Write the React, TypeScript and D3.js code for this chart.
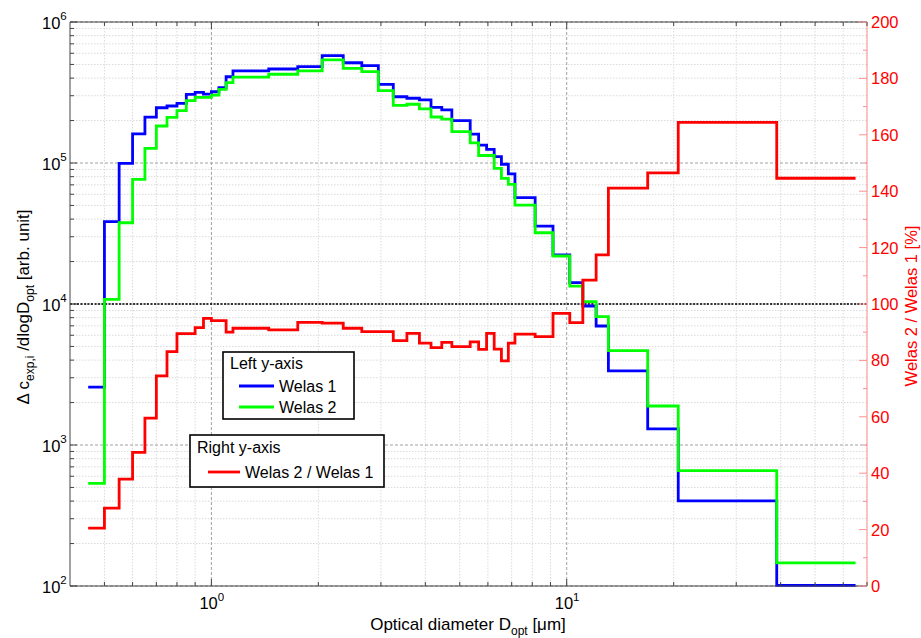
import React from "react";
import * as d3 from "d3";

const edges = [0.45, 0.5, 0.55, 0.6, 0.65, 0.7, 0.75, 0.8, 0.85, 0.9, 0.95, 1.0, 1.05, 1.1, 1.15, 1.45, 1.75, 2.05, 2.35, 2.65, 2.95, 3.25, 3.55, 3.85, 4.15, 4.45, 4.75, 5.35, 5.65, 5.95, 6.25, 6.55, 6.85, 7.15, 8.15, 9.15, 10.2, 11.1, 12.1, 13.1, 16.9, 20.6, 39, 65];

const welas1 = [2570, 38400, 99500, 160700, 211800, 246600, 253700, 265000, 307000, 317000, 308000, 320000, 342000, 409000, 450000, 464000, 482000, 577000, 514000, 490000, 361000, 295000, 288000, 280000, 248000, 238000, 200000, 160000, 134000, 125000, 111000, 98000, 83600, 56800, 35700, 22300, 14200, 9680, 6980, 3350, 1300, 401, 101];

const welas2 = [535, 10800, 37700, 76600, 127000, 183000, 210800, 235000, 276500, 292000, 292000, 303000, 333000, 371000, 407000, 426000, 450000, 538000, 469000, 444000, 326000, 256000, 261000, 242000, 212000, 205000, 167000, 139000, 113000, 113000, 91700, 77900, 70600, 50300, 32000, 21900, 13400, 10400, 8130, 4670, 1890, 658, 146];

const ratio = [20.5, 27.6, 37.9, 47.4, 59.5, 74.5, 83.1, 89.5, 89.5, 91.6, 94.9, 94.1, 94.1, 90, 91.4, 90.8, 93.5, 93.2, 91.4, 90.2, 90.2, 87, 89.6, 86.1, 84.5, 86.4, 84.9, 86.6, 83.9, 89.6, 84, 79.8, 86.1, 89.3, 88.4, 96.7, 93.4, 108.5, 117.4, 141.1, 146.5, 164.4, 144.6];

const xTicks = [0.5, 0.6, 0.7, 0.8, 0.9, 1, 2, 3, 4, 5, 6, 7, 8, 9, 10, 20, 30, 40, 50, 60, 70];
const xMajor = [1, 10];
const yDecades = [2, 3, 4, 5, 6];
const rightTicks = [0, 20, 40, 60, 80, 100, 120, 140, 160, 180, 200];
const rightMinor = [10, 30, 50, 70, 90, 110, 130, 150, 170, 190];

const L = 70, R = 867, T = 22, B = 586;
const FONT = "Liberation Sans, Arial, Helvetica, sans-serif";

export default function App() {
  const x = d3.scaleLog().domain([0.4, 70]).range([L, R]);
  const yL = d3.scaleLog().domain([100, 1e6]).range([B, T]);
  const yR = d3.scaleLinear().domain([0, 200]).range([B, T]);

  const stairs = (vals: number[], ys: (v: number) => number) => {
    const pts: [number, number][] = vals.map((v, i) => [edges[i], v]);
    pts.push([edges[vals.length], vals[vals.length - 1]]);
    return d3.line<[number, number]>()
      .x((d) => x(d[0]))
      .y((d) => ys(d[1]))
      .curve(d3.curveStepAfter)(pts) as string;
  };

  const minorY: number[] = [];
  [2, 3, 4, 5].forEach((e) => {
    for (let m = 2; m <= 9; m++) minorY.push(m * Math.pow(10, e));
  });

  return (
    <svg width={921} height={638} style={{ position: "absolute", left: 0, top: 0, background: "#fff" }} fontFamily={FONT}>
      <rect x={0} y={0} width={921} height={638} fill="#fff" />
      {/* grid */}
      {xTicks.filter((t) => !xMajor.includes(t)).map((t) => (
        <line key={"gx" + t} x1={x(t)} x2={x(t)} y1={T} y2={B} stroke="#dadada" strokeWidth={1} strokeDasharray="1.5,1.5" />
      ))}
      {minorY.map((v) => (
        <line key={"gy" + v} x1={L} x2={R} y1={yL(v)} y2={yL(v)} stroke="#dadada" strokeWidth={1} strokeDasharray="1.5,1.5" />
      ))}
      {xMajor.map((t) => (
        <line key={"gX" + t} x1={x(t)} x2={x(t)} y1={T} y2={B} stroke="#a0a0a0" strokeWidth={1} strokeDasharray="3,2" />
      ))}
      {yDecades.map((e) => (
        <line key={"gY" + e} x1={L} x2={R} y1={yL(Math.pow(10, e))} y2={yL(Math.pow(10, e))} stroke="#a0a0a0" strokeWidth={1} strokeDasharray="3,2" />
      ))}
      {/* 100% line */}
      <line x1={L} x2={R} y1={yR(100)} y2={yR(100)} stroke="#000" strokeWidth={1.6} strokeDasharray="2,1.5" />

      {/* curves */}
      <path d={stairs(welas1, yL)} fill="none" stroke="#0000ff" strokeWidth={2.8} />
      <path d={stairs(welas2, yL)} fill="none" stroke="#00ff00" strokeWidth={2.8} />
      <path d={stairs(ratio, yR)} fill="none" stroke="#ff0000" strokeWidth={2.8} />

      {/* axes frame */}
      <line x1={L} x2={R} y1={T} y2={T} stroke="#444" strokeWidth={1} />
      <line x1={L} x2={R} y1={B} y2={B} stroke="#444" strokeWidth={1} />
      <line x1={L} x2={L} y1={T} y2={B} stroke="#444" strokeWidth={1} />
      <line x1={R} x2={R} y1={T} y2={B} stroke="#ff9090" strokeWidth={1} />

      {/* x ticks */}
      {xTicks.map((t) => {
        const len = xMajor.includes(t) ? 7 : 4;
        return (
          <g key={"xt" + t}>
            <line x1={x(t)} x2={x(t)} y1={B} y2={B - len} stroke="#444" />
            <line x1={x(t)} x2={x(t)} y1={T} y2={T + len} stroke="#444" />
          </g>
        );
      })}
      {/* left y ticks */}
      {minorY.map((v) => (
        <line key={"ylt" + v} x1={L} x2={L + 4} y1={yL(v)} y2={yL(v)} stroke="#444" />
      ))}
      {yDecades.map((e) => (
        <line key={"yLT" + e} x1={L} x2={L + 7} y1={yL(Math.pow(10, e))} y2={yL(Math.pow(10, e))} stroke="#444" />
      ))}
      {/* right ticks */}
      {rightTicks.map((t) => (
        <line key={"rt" + t} x1={R} x2={R - 8} y1={yR(t)} y2={yR(t)} stroke="#ff9090" />
      ))}
      {rightMinor.map((t) => (
        <line key={"rm" + t} x1={R} x2={R - 4} y1={yR(t)} y2={yR(t)} stroke="#ff9090" />
      ))}

      {/* left tick labels */}
      {yDecades.map((e) => (
        <text key={"yl" + e} x={L - 28} y={yL(Math.pow(10, e)) + 7} fontSize={16.5} fill="#000">
          10<tspan dy={-9} fontSize={11.5}>{e}</tspan>
        </text>
      ))}
      {/* x tick labels */}
      {[0, 1].map((e) => (
        <text key={"xl" + e} x={x(Math.pow(10, e)) - 12} y={609} fontSize={16.5} fill="#000">
          10<tspan dy={-8} fontSize={11.5}>{e}</tspan>
        </text>
      ))}
      {/* right tick labels */}
      {rightTicks.map((t) => (
        <text key={"rl" + t} x={R + 4} y={yR(t) + 6} fontSize={16.5} fill="#ff0000">{t}</text>
      ))}

      {/* axis titles */}
      <text x={468} y={630} fontSize={17} textAnchor="middle" fill="#000">
        Optical diameter D<tspan dy={5} fontSize={12}>opt</tspan><tspan dy={-5}> [μm]</tspan>
      </text>
      <text transform="translate(29,307) rotate(-90)" fontSize={17} textAnchor="middle" fill="#000">
        Δ c<tspan dy={5} fontSize={12}>exp,i</tspan><tspan dy={-5}> /dlogD</tspan><tspan dy={5} fontSize={12}>opt</tspan><tspan dy={-5}> [arb. unit]</tspan>
      </text>
      <text transform="translate(917,306) rotate(-90)" fontSize={16.5} textAnchor="middle" fill="#ff0000">
        Welas 2 / Welas 1 [%]
      </text>

      {/* legend 1 */}
      <rect x={223} y={352} width={131} height={67} fill="#fff" stroke="#000" strokeWidth={1.6} />
      <text x={230} y={369} fontSize={16} fill="#000">Left y-axis</text>
      <line x1={239} x2={274} y1={386} y2={386} stroke="#0000ff" strokeWidth={2.8} />
      <text x={279} y={392} fontSize={16} fill="#000">Welas 1</text>
      <line x1={239} x2={274} y1={407} y2={407} stroke="#00ff00" strokeWidth={2.8} />
      <text x={279} y={413} fontSize={16} fill="#000">Welas 2</text>

      {/* legend 2 */}
      <rect x={190} y={435} width={194} height={52} fill="#fff" stroke="#000" strokeWidth={1.6} />
      <text x={197} y={453} fontSize={16} fill="#000">Right y-axis</text>
      <line x1={208} x2={240} y1={472} y2={472} stroke="#ff0000" strokeWidth={2.8} />
      <text x={245} y={478} fontSize={16} fill="#000">Welas 2 / Welas 1</text>
    </svg>
  );
}
